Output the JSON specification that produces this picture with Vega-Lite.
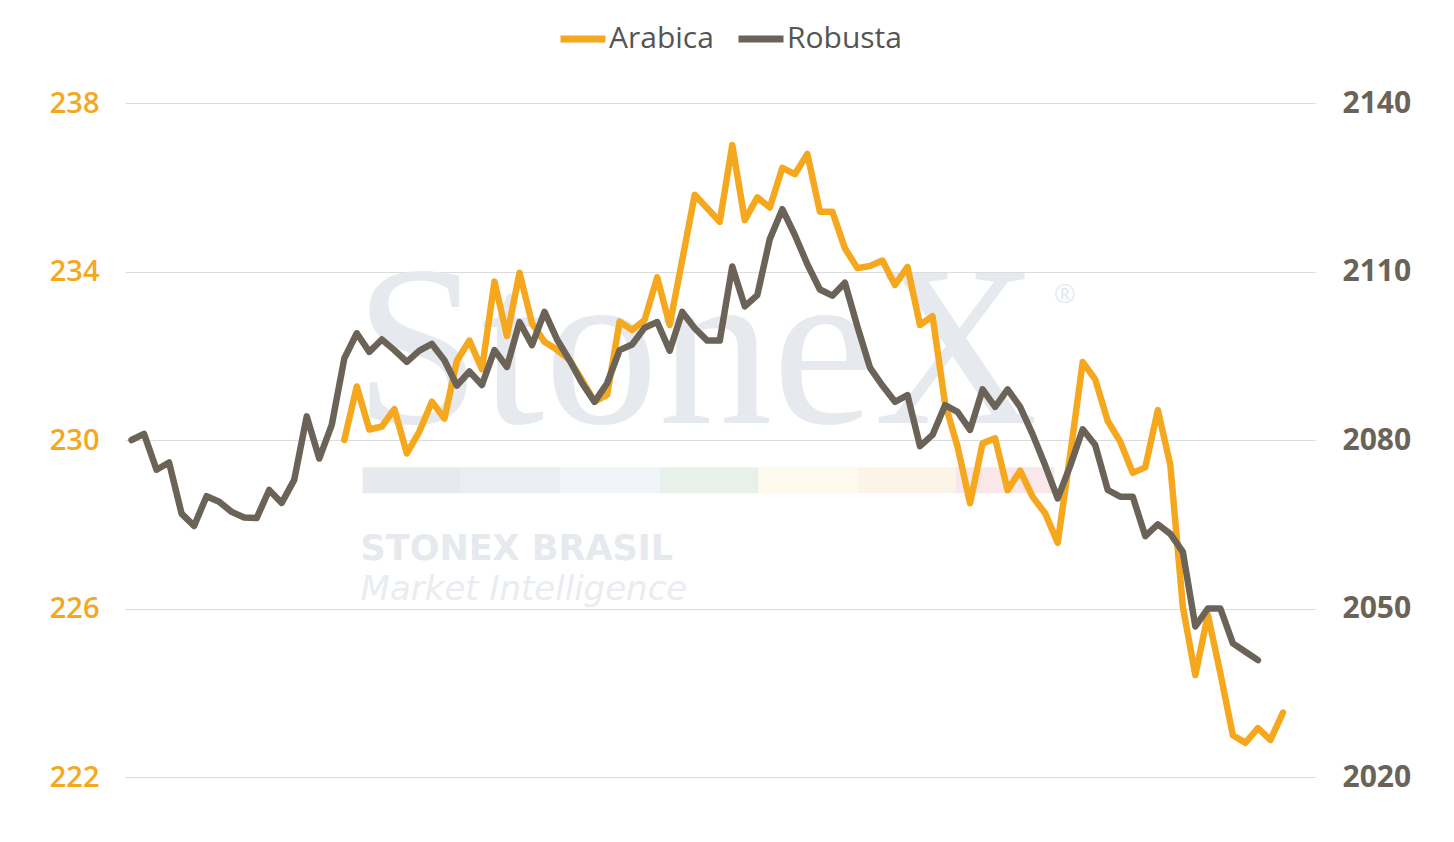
{
  "$schema": "https://vega.github.io/schema/vega-lite/v6.json",
  "description": "Arabica vs Robusta, dual axis",
  "width": 1190,
  "height": 674,
  "autosize": {"type": "none"},
  "padding": {"left": 125, "top": 103, "right": 139, "bottom": 65},
  "background": "white",
  "config": {"view": {"stroke": null}, "font": "Open Sans"},
  "datasets": {
    "arabica": [
      {"day": 17, "series": "Arabica", "price": 230.0},
      {"day": 18, "series": "Arabica", "price": 231.27},
      {"day": 19, "series": "Arabica", "price": 230.25},
      {"day": 20, "series": "Arabica", "price": 230.32},
      {"day": 21, "series": "Arabica", "price": 230.73},
      {"day": 22, "series": "Arabica", "price": 229.68},
      {"day": 23, "series": "Arabica", "price": 230.2},
      {"day": 24, "series": "Arabica", "price": 230.91},
      {"day": 25, "series": "Arabica", "price": 230.51},
      {"day": 26, "series": "Arabica", "price": 231.88},
      {"day": 27, "series": "Arabica", "price": 232.36},
      {"day": 28, "series": "Arabica", "price": 231.68},
      {"day": 29, "series": "Arabica", "price": 233.76},
      {"day": 30, "series": "Arabica", "price": 232.47},
      {"day": 31, "series": "Arabica", "price": 233.97},
      {"day": 32, "series": "Arabica", "price": 232.77},
      {"day": 33, "series": "Arabica", "price": 232.33},
      {"day": 34, "series": "Arabica", "price": 232.14},
      {"day": 35, "series": "Arabica", "price": 231.9},
      {"day": 36, "series": "Arabica", "price": 231.42},
      {"day": 37, "series": "Arabica", "price": 230.91},
      {"day": 38, "series": "Arabica", "price": 231.07},
      {"day": 39, "series": "Arabica", "price": 232.81},
      {"day": 40, "series": "Arabica", "price": 232.61},
      {"day": 41, "series": "Arabica", "price": 232.85},
      {"day": 42, "series": "Arabica", "price": 233.86},
      {"day": 43, "series": "Arabica", "price": 232.73},
      {"day": 44, "series": "Arabica", "price": 234.27},
      {"day": 45, "series": "Arabica", "price": 235.82},
      {"day": 46, "series": "Arabica", "price": 235.5},
      {"day": 47, "series": "Arabica", "price": 235.18},
      {"day": 48, "series": "Arabica", "price": 237.0},
      {"day": 49, "series": "Arabica", "price": 235.22},
      {"day": 50, "series": "Arabica", "price": 235.76},
      {"day": 51, "series": "Arabica", "price": 235.52},
      {"day": 52, "series": "Arabica", "price": 236.46},
      {"day": 53, "series": "Arabica", "price": 236.31},
      {"day": 54, "series": "Arabica", "price": 236.79},
      {"day": 55, "series": "Arabica", "price": 235.42},
      {"day": 56, "series": "Arabica", "price": 235.42},
      {"day": 57, "series": "Arabica", "price": 234.55},
      {"day": 58, "series": "Arabica", "price": 234.08},
      {"day": 59, "series": "Arabica", "price": 234.13},
      {"day": 60, "series": "Arabica", "price": 234.26},
      {"day": 61, "series": "Arabica", "price": 233.68},
      {"day": 62, "series": "Arabica", "price": 234.11},
      {"day": 63, "series": "Arabica", "price": 232.73},
      {"day": 64, "series": "Arabica", "price": 232.94},
      {"day": 65, "series": "Arabica", "price": 230.87},
      {"day": 66, "series": "Arabica", "price": 229.84},
      {"day": 67, "series": "Arabica", "price": 228.5},
      {"day": 68, "series": "Arabica", "price": 229.92},
      {"day": 69, "series": "Arabica", "price": 230.04},
      {"day": 70, "series": "Arabica", "price": 228.81},
      {"day": 71, "series": "Arabica", "price": 229.27},
      {"day": 72, "series": "Arabica", "price": 228.65},
      {"day": 73, "series": "Arabica", "price": 228.26},
      {"day": 74, "series": "Arabica", "price": 227.56},
      {"day": 75, "series": "Arabica", "price": 229.65},
      {"day": 76, "series": "Arabica", "price": 231.85},
      {"day": 77, "series": "Arabica", "price": 231.44},
      {"day": 78, "series": "Arabica", "price": 230.45},
      {"day": 79, "series": "Arabica", "price": 229.96},
      {"day": 80, "series": "Arabica", "price": 229.22},
      {"day": 81, "series": "Arabica", "price": 229.35},
      {"day": 82, "series": "Arabica", "price": 230.71},
      {"day": 83, "series": "Arabica", "price": 229.41},
      {"day": 84, "series": "Arabica", "price": 226.04},
      {"day": 85, "series": "Arabica", "price": 224.42},
      {"day": 86, "series": "Arabica", "price": 225.85},
      {"day": 87, "series": "Arabica", "price": 224.46},
      {"day": 88, "series": "Arabica", "price": 222.99},
      {"day": 89, "series": "Arabica", "price": 222.81},
      {"day": 90, "series": "Arabica", "price": 223.16},
      {"day": 91, "series": "Arabica", "price": 222.88},
      {"day": 92, "series": "Arabica", "price": 223.53}
    ],
    "robusta": [
      {"day": 0, "series": "Robusta", "price": 2080.0},
      {"day": 1, "series": "Robusta", "price": 2081.1},
      {"day": 2, "series": "Robusta", "price": 2074.7},
      {"day": 3, "series": "Robusta", "price": 2076.0},
      {"day": 4, "series": "Robusta", "price": 2066.9},
      {"day": 5, "series": "Robusta", "price": 2064.7},
      {"day": 6, "series": "Robusta", "price": 2070.0},
      {"day": 7, "series": "Robusta", "price": 2069.0},
      {"day": 8, "series": "Robusta", "price": 2067.2},
      {"day": 9, "series": "Robusta", "price": 2066.2},
      {"day": 10, "series": "Robusta", "price": 2066.1},
      {"day": 11, "series": "Robusta", "price": 2071.1},
      {"day": 12, "series": "Robusta", "price": 2068.8},
      {"day": 13, "series": "Robusta", "price": 2072.9},
      {"day": 14, "series": "Robusta", "price": 2084.2},
      {"day": 15, "series": "Robusta", "price": 2076.7},
      {"day": 16, "series": "Robusta", "price": 2082.7},
      {"day": 17, "series": "Robusta", "price": 2094.5},
      {"day": 18, "series": "Robusta", "price": 2099.0},
      {"day": 19, "series": "Robusta", "price": 2095.7},
      {"day": 20, "series": "Robusta", "price": 2097.9},
      {"day": 21, "series": "Robusta", "price": 2096.0},
      {"day": 22, "series": "Robusta", "price": 2093.9},
      {"day": 23, "series": "Robusta", "price": 2095.9},
      {"day": 24, "series": "Robusta", "price": 2097.1},
      {"day": 25, "series": "Robusta", "price": 2094.2},
      {"day": 26, "series": "Robusta", "price": 2089.7},
      {"day": 27, "series": "Robusta", "price": 2092.2},
      {"day": 28, "series": "Robusta", "price": 2089.8},
      {"day": 29, "series": "Robusta", "price": 2096.0},
      {"day": 30, "series": "Robusta", "price": 2093.0},
      {"day": 31, "series": "Robusta", "price": 2101.0},
      {"day": 32, "series": "Robusta", "price": 2096.9},
      {"day": 33, "series": "Robusta", "price": 2102.8},
      {"day": 34, "series": "Robusta", "price": 2097.9},
      {"day": 35, "series": "Robusta", "price": 2094.2},
      {"day": 36, "series": "Robusta", "price": 2090.1},
      {"day": 37, "series": "Robusta", "price": 2086.8},
      {"day": 38, "series": "Robusta", "price": 2090.1},
      {"day": 39, "series": "Robusta", "price": 2096.0},
      {"day": 40, "series": "Robusta", "price": 2097.0},
      {"day": 41, "series": "Robusta", "price": 2100.0},
      {"day": 42, "series": "Robusta", "price": 2101.0},
      {"day": 43, "series": "Robusta", "price": 2095.9},
      {"day": 44, "series": "Robusta", "price": 2102.8},
      {"day": 45, "series": "Robusta", "price": 2099.9},
      {"day": 46, "series": "Robusta", "price": 2097.7},
      {"day": 47, "series": "Robusta", "price": 2097.7},
      {"day": 48, "series": "Robusta", "price": 2110.9},
      {"day": 49, "series": "Robusta", "price": 2103.8},
      {"day": 50, "series": "Robusta", "price": 2105.8},
      {"day": 51, "series": "Robusta", "price": 2115.8},
      {"day": 52, "series": "Robusta", "price": 2121.1},
      {"day": 53, "series": "Robusta", "price": 2116.5},
      {"day": 54, "series": "Robusta", "price": 2111.3},
      {"day": 55, "series": "Robusta", "price": 2106.8},
      {"day": 56, "series": "Robusta", "price": 2105.7},
      {"day": 57, "series": "Robusta", "price": 2108.0},
      {"day": 58, "series": "Robusta", "price": 2100.2},
      {"day": 59, "series": "Robusta", "price": 2092.9},
      {"day": 60, "series": "Robusta", "price": 2089.7},
      {"day": 61, "series": "Robusta", "price": 2086.8},
      {"day": 62, "series": "Robusta", "price": 2088.0},
      {"day": 63, "series": "Robusta", "price": 2078.9},
      {"day": 64, "series": "Robusta", "price": 2080.9},
      {"day": 65, "series": "Robusta", "price": 2086.2},
      {"day": 66, "series": "Robusta", "price": 2085.0},
      {"day": 67, "series": "Robusta", "price": 2081.8},
      {"day": 68, "series": "Robusta", "price": 2089.0},
      {"day": 69, "series": "Robusta", "price": 2085.9},
      {"day": 70, "series": "Robusta", "price": 2089.0},
      {"day": 71, "series": "Robusta", "price": 2085.9},
      {"day": 72, "series": "Robusta", "price": 2081.0},
      {"day": 73, "series": "Robusta", "price": 2075.5},
      {"day": 74, "series": "Robusta", "price": 2069.6},
      {"day": 75, "series": "Robusta", "price": 2075.4},
      {"day": 76, "series": "Robusta", "price": 2081.9},
      {"day": 77, "series": "Robusta", "price": 2079.1},
      {"day": 78, "series": "Robusta", "price": 2071.1},
      {"day": 79, "series": "Robusta", "price": 2069.9},
      {"day": 80, "series": "Robusta", "price": 2069.9},
      {"day": 81, "series": "Robusta", "price": 2062.9},
      {"day": 82, "series": "Robusta", "price": 2065.0},
      {"day": 83, "series": "Robusta", "price": 2063.3},
      {"day": 84, "series": "Robusta", "price": 2060.1},
      {"day": 85, "series": "Robusta", "price": 2046.8},
      {"day": 86, "series": "Robusta", "price": 2050.0},
      {"day": 87, "series": "Robusta", "price": 2050.0},
      {"day": 88, "series": "Robusta", "price": 2043.8},
      {"day": 89, "series": "Robusta", "price": 2042.3},
      {"day": 90, "series": "Robusta", "price": 2040.8}
    ]
  },
  "layer": [
    {
      "layer": [
        {
          "data": {"values": [{}]},
          "mark": {"type": "text", "text": "StoneX", "font": "Liberation Serif", "fontSize": 228, "color": "#e6eaef", "align": "left", "baseline": "alphabetic"},
          "encoding": {
            "x": {"datum": 17.8, "type": "quantitative", "axis": null},
            "y": {"datum": 230.4, "type": "quantitative", "title": null}
          }
        },
        {
          "data": {"values": [{}]},
          "mark": {"type": "text", "text": "®", "font": "Open Sans", "fontSize": 26, "color": "#e6eaef", "align": "center", "baseline": "middle"},
          "encoding": {
            "x": {"datum": 74.58, "type": "quantitative", "axis": null},
            "y": {"datum": 233.44, "type": "quantitative", "title": null}
          }
        },
        {
          "data": {"values": [{}]},
          "mark": {"type": "rect", "color": "#e6e9ee"},
          "encoding": {
            "x": {"datum": 18.46, "type": "quantitative", "axis": null}, "x2": {"datum": 26.37},
            "y": {"datum": 229.352, "type": "quantitative", "title": null}, "y2": {"datum": 228.735}
          }
        },
        {
          "data": {"values": [{}]},
          "mark": {"type": "rect", "color": "#eaeef2"},
          "encoding": {
            "x": {"datum": 26.37, "type": "quantitative", "axis": null}, "x2": {"datum": 34.28},
            "y": {"datum": 229.352, "type": "quantitative", "title": null}, "y2": {"datum": 228.735}
          }
        },
        {
          "data": {"values": [{}]},
          "mark": {"type": "rect", "color": "#f1f5f9"},
          "encoding": {
            "x": {"datum": 34.28, "type": "quantitative", "axis": null}, "x2": {"datum": 42.19},
            "y": {"datum": 229.352, "type": "quantitative", "title": null}, "y2": {"datum": 228.735}
          }
        },
        {
          "data": {"values": [{}]},
          "mark": {"type": "rect", "color": "#e8f0ea"},
          "encoding": {
            "x": {"datum": 42.19, "type": "quantitative", "axis": null}, "x2": {"datum": 50.1},
            "y": {"datum": 229.352, "type": "quantitative", "title": null}, "y2": {"datum": 228.735}
          }
        },
        {
          "data": {"values": [{}]},
          "mark": {"type": "rect", "color": "#fdf9ec"},
          "encoding": {
            "x": {"datum": 50.1, "type": "quantitative", "axis": null}, "x2": {"datum": 58.01},
            "y": {"datum": 229.352, "type": "quantitative", "title": null}, "y2": {"datum": 228.735}
          }
        },
        {
          "data": {"values": [{}]},
          "mark": {"type": "rect", "color": "#fdf4e8"},
          "encoding": {
            "x": {"datum": 58.01, "type": "quantitative", "axis": null}, "x2": {"datum": 65.84},
            "y": {"datum": 229.352, "type": "quantitative", "title": null}, "y2": {"datum": 228.735}
          }
        },
        {
          "data": {"values": [{}]},
          "mark": {"type": "rect", "color": "#f9e7e9"},
          "encoding": {
            "x": {"datum": 65.84, "type": "quantitative", "axis": null}, "x2": {"datum": 73.75},
            "y": {"datum": 229.352, "type": "quantitative", "title": null}, "y2": {"datum": 228.735}
          }
        },
        {
          "data": {"values": [{}]},
          "mark": {"type": "text", "text": "STONEX BRASIL", "font": "DejaVu Sans", "fontWeight": "bold", "fontSize": 35, "color": "#e6e9ed", "align": "left", "baseline": "alphabetic"},
          "encoding": {
            "x": {"datum": 18.3, "type": "quantitative", "axis": null},
            "y": {"datum": 227.163, "type": "quantitative", "title": null}
          }
        },
        {
          "data": {"values": [{}]},
          "mark": {"type": "text", "text": "Market Intelligence", "font": "DejaVu Sans", "fontStyle": "italic", "fontWeight": 200, "fontSize": 34, "color": "#e9ecf0", "align": "left", "baseline": "alphabetic"},
          "encoding": {
            "x": {"datum": 18.3, "type": "quantitative", "axis": null},
            "y": {"datum": 226.2, "type": "quantitative", "title": null}
          }
        },
        {
          "data": {"name": "arabica"},
          "mark": {"type": "line", "strokeWidth": 6.5, "strokeCap": "round", "strokeJoin": "round"},
          "encoding": {
            "x": {"field": "day", "type": "quantitative", "scale": {"domain": [-0.52, 94.56], "nice": false, "zero": false}, "axis": null},
            "y": {
              "field": "price",
              "type": "quantitative",
              "scale": {"domain": [222, 238], "nice": false, "zero": false},
              "axis": {
                "orient": "left",
                "values": [222, 226, 230, 234, 238],
                "format": "d",
                "title": null,
                "labelColor": "#F5A71D",
                "labelFont": "Open Sans",
                "labelFontWeight": 600,
                "labelFontSize": 29,
                "labelPadding": 26,
                "ticks": false,
                "domain": false,
                "grid": true,
                "gridColor": "#dcdcdc",
                "gridWidth": 1
              }
            },
            "color": {
              "field": "series",
              "type": "nominal",
              "scale": {"domain": ["Arabica", "Robusta"], "range": ["#F5A71D", "#6B6357"]},
              "legend": {
                "orient": "none",
                "legendX": 432,
                "legendY": -90,
                "direction": "horizontal",
                "title": null,
                "padding": 0,
                "symbolType": "stroke",
                "symbolStrokeWidth": 7,
                "symbolSize": 2025,
                "labelFont": "Open Sans",
                "labelFontSize": 30,
                "labelColor": "#555555",
                "labelOffset": 0,
                "columnPadding": 10
              }
            }
          }
        }
      ]
    },
    {
      "data": {"name": "robusta"},
      "mark": {"type": "line", "strokeWidth": 6.5, "strokeCap": "round", "strokeJoin": "round"},
      "encoding": {
        "x": {"field": "day", "type": "quantitative", "axis": null},
        "y": {
          "field": "price",
          "type": "quantitative",
          "scale": {"domain": [2020, 2140], "nice": false, "zero": false},
          "axis": {
            "orient": "right",
            "values": [2020, 2050, 2080, 2110, 2140],
            "format": "d",
            "title": null,
            "labelColor": "#6B6357",
            "labelFont": "Open Sans",
            "labelFontWeight": "bold",
            "labelFontSize": 30,
            "labelPadding": 27,
            "ticks": false,
            "domain": false,
            "grid": false
          }
        },
        "color": {"field": "series", "type": "nominal"}
      }
    }
  ],
  "resolve": {"scale": {"y": "independent"}}
}
